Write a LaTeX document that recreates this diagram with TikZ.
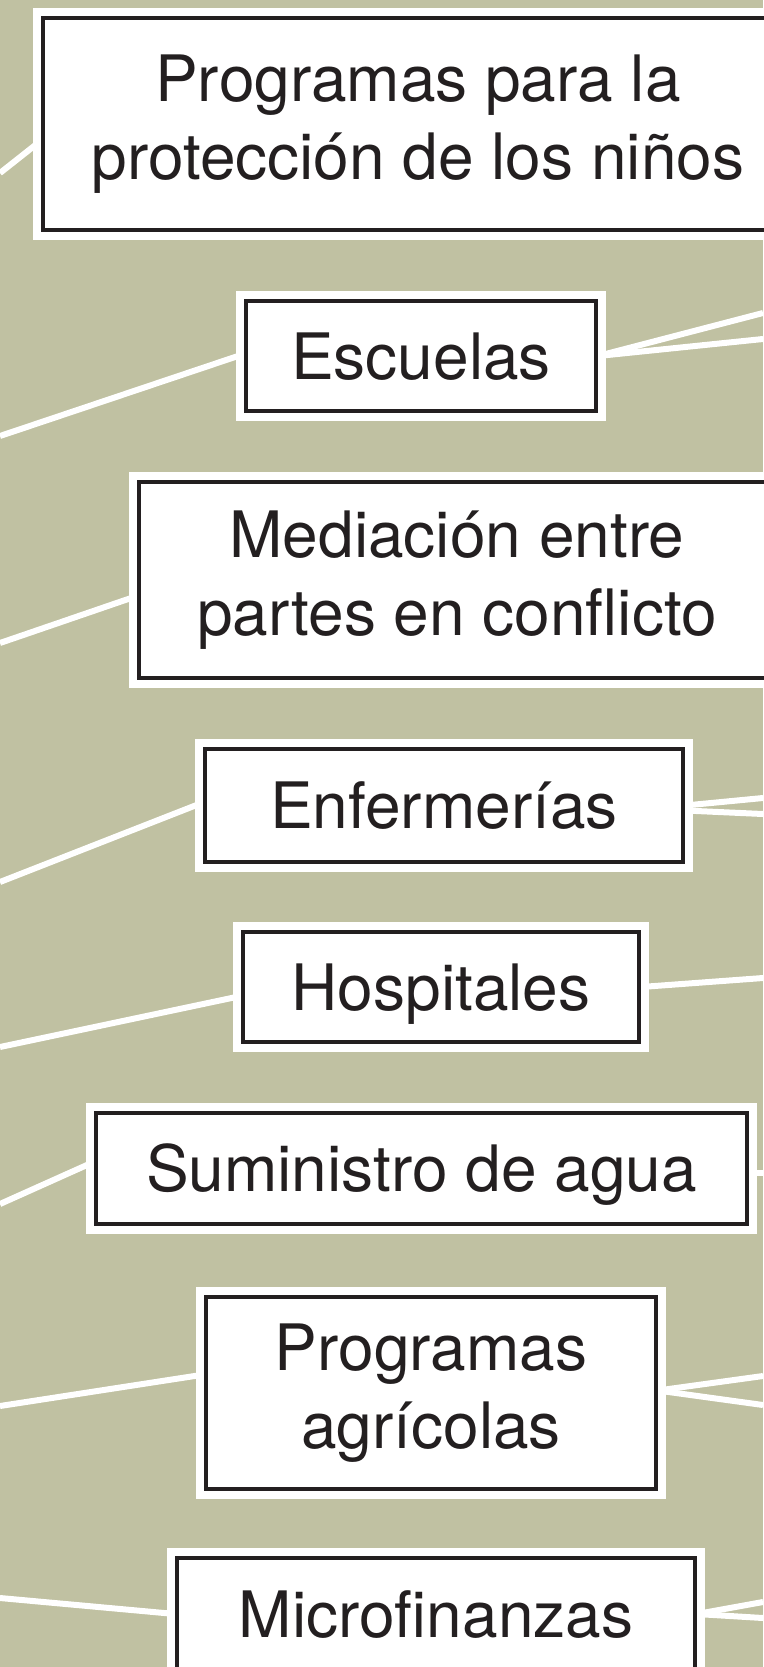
\documentclass[tikz,border=0pt]{standalone}
\usepackage{fontspec}
\setmainfont{TeX Gyre Heros}
\usetikzlibrary{backgrounds}
\definecolor{bgolive}{RGB}{192,193,162}
\definecolor{ink}{RGB}{35,31,32}

\begin{document}
\begin{tikzpicture}[x=1pt,y=-1pt,
    itembox/.style={draw=ink,line width=4pt,fill=white,text=ink,
      preaction={draw=white,line width=20pt},
      font=\fontsize{64}{78}\selectfont,align=center,inner sep=0pt},
    oneline/.style={text height=46pt,text depth=0pt},
    wire/.style={draw=white,line width=6pt}]
    \useasboundingbox (0,0) rectangle (763,1667);

    % boxes
    \node[itembox,minimum width=751pt,minimum height=211pt] (kinder) at (418,124) {Programas para la\\protección de los niños};
    \node[itembox,oneline,minimum width=350pt,minimum height=110.5pt] (escuelas) at (421,356) {Escuelas};
    \node[itembox,minimum width=636pt,minimum height=196pt] (mediacion) at (457,580) {Mediación entre\\partes en conflicto};
    \node[itembox,oneline,minimum width=478pt,minimum height=113pt] (enfermerias) at (444,805.5) {Enfermerías};
    \node[itembox,oneline,minimum width=396pt,minimum height=110.5pt] (hospitales) at (441,987) {Hospitales};
    \node[itembox,oneline,minimum width=651.5pt,minimum height=111.5pt] (agua) at (421.4,1168.5) {Suministro de agua};
    \node[itembox,minimum width=449.5pt,minimum height=192.5pt] (agricolas) at (431,1393) {Programas\\agrícolas};
    \node[itembox,oneline,minimum width=517.5pt,minimum height=112pt] (micro) at (436,1614) {Microfinanzas};

    % free ends at the picture edge
    \coordinate (k0) at (0,173);
    \coordinate (e0) at (0,436);
    \coordinate (e1) at (763,313);
    \coordinate (e2) at (763,339);
    \coordinate (m0) at (0,643);
    \coordinate (f0) at (0,882);
    \coordinate (f1) at (763,798);
    \coordinate (f2) at (763,814);
    \coordinate (h0) at (0,1047);
    \coordinate (h1) at (763,978);
    \coordinate (a0) at (0,1204);
    \coordinate (a1) at (763,1173);
    \coordinate (g0) at (0,1406);
    \coordinate (g1) at (763,1376);
    \coordinate (g2) at (763,1405);
    \coordinate (n0) at (0,1598);
    \coordinate (n1) at (763,1602);
    \coordinate (n2) at (763,1618);

    \begin{scope}[on background layer]
        \fill[bgolive] (0,0) rectangle (763,1667);
        % connectors
        \draw[wire] (k0) -- ([yshift=-17pt]kinder.west);
        \draw[wire] (e0) -- ([yshift=2pt]escuelas.west);
        \draw[wire] (escuelas.east) -- (e1);
        \draw[wire] (escuelas.east) -- (e2);
        \draw[wire] (m0) -- ([yshift=-16pt]mediacion.west);
        \draw[wire] (f0) -- ([yshift=3pt]enfermerias.west);
        \draw[wire] (enfermerias.east) -- (f1);
        \draw[wire] ([yshift=-5pt]enfermerias.east) -- (f2);
        \draw[wire] (h0) -- ([yshift=-9pt]hospitales.west);
        \draw[wire] (hospitales.east) -- (h1);
        \draw[wire] (a0) -- ([yshift=6.5pt]agua.west);
        \draw[wire] ([yshift=-4.5pt]agua.east) -- (a1);
        \draw[wire] (g0) -- ([yshift=18.5pt]agricolas.west);
        \draw[wire] ([yshift=2.5pt]agricolas.east) -- (g1);
        \draw[wire] ([yshift=2.5pt]agricolas.east) -- (g2);
        \draw[wire] (n0) -- (micro.west);
        \draw[wire] (micro.east) -- (n1);
        \draw[wire] (micro.east) -- (n2);
    \end{scope}
\end{tikzpicture}
\end{document}
